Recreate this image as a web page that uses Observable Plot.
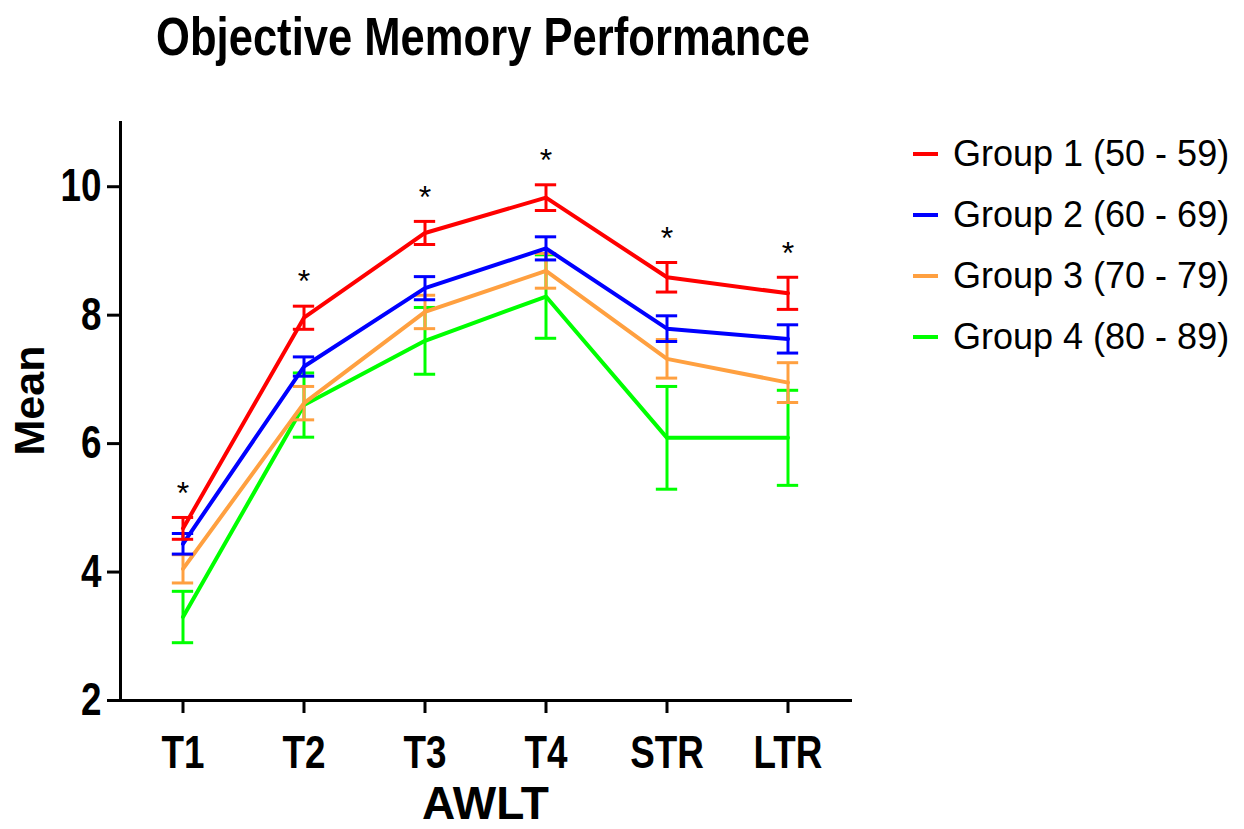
<!DOCTYPE html>
<html><head><meta charset="utf-8">
<script src="https://cdn.jsdelivr.net/npm/d3@7"></script>
<script src="https://cdn.jsdelivr.net/npm/@observablehq/plot@0.6"></script>
<style>
body{margin:0;background:#fff;font-family:"Liberation Sans",Arial,sans-serif;}
#wrap{position:relative;width:1244px;height:829px;overflow:hidden;background:#fff;}
#title{position:absolute;left:0;top:9px;width:966px;text-align:center;font-size:54px;font-weight:bold;line-height:54px;transform:scaleX(0.807);transform-origin:483px 0;white-space:nowrap;color:#000;}
#chart{position:absolute;left:0;top:90px;}
#legend{position:absolute;left:913px;top:0;}
.row{position:absolute;left:0;display:flex;align-items:center;height:40px;white-space:nowrap;}
.sw{width:25px;height:4px;margin-right:15px;}
.lab{font-size:36px;color:#000;}
</style></head>
<body><div id="wrap"><div id="title">Objective Memory Performance</div><div id="chart"></div><div id="legend"></div></div>
<script>
const categories = ["T1", "T2", "T3", "T4", "STR", "LTR"];
const groups = ["Group 1 (50 - 59)", "Group 2 (60 - 69)", "Group 3 (70 - 79)", "Group 4 (80 - 89)"];
const colors = ["#FF0000", "#0000FF", "#FFA040", "#00FF00"];
const g1Mean = [4.68, 7.96, 9.28, 9.83, 8.59, 8.34];
const g1Err  = [0.17, 0.18, 0.18, 0.20, 0.23, 0.25];
const g2Mean = [4.44, 7.20, 8.42, 9.04, 7.79, 7.63];
const g2Err  = [0.16, 0.15, 0.18, 0.18, 0.20, 0.22];
const g3Mean = [4.05, 6.63, 8.05, 8.69, 7.32, 6.95];
const g3Err  = [0.22, 0.26, 0.26, 0.27, 0.30, 0.31];
const g4Mean = [3.30, 6.60, 7.60, 8.29, 6.09, 6.09];
const g4Err  = [0.40, 0.50, 0.52, 0.65, 0.80, 0.74];
const sigMarks = ["*", "*", "*", "*", "*", "*"];
const yTicks = [2, 4, 6, 8, 10];
const xTitle = "AWLT";
const yTitle = "Mean";

const means = [g1Mean, g2Mean, g3Mean, g4Mean];
const errs = [g1Err, g2Err, g3Err, g4Err];
const rows = [];
groups.forEach((g, gi) => categories.forEach((c, ci) => rows.push({group: g, cat: c, mean: means[gi][ci], err: errs[gi][ci]})));
const starRows = categories.map((c, ci) => ({cat: c, top: g1Mean[ci] + g1Err[ci], mark: sigMarks[ci]}));

const W = 880, H = 739, ML = 120, MR = 30;
const bw = (W - ML - MR) / categories.length;
const capInset = (bw - 22) / 2;

const marks = [];
[...groups].reverse().forEach(g => {
  const d = rows.filter(r => r.group === g);
  marks.push(
    Plot.ruleX(d, {x: "cat", y1: r => r.mean - r.err, y2: r => r.mean + r.err, stroke: "group", strokeWidth: 3}),
    Plot.tickY(d, {x: "cat", y: r => r.mean + r.err, stroke: "group", strokeWidth: 3, insetLeft: capInset, insetRight: capInset}),
    Plot.tickY(d, {x: "cat", y: r => r.mean - r.err, stroke: "group", strokeWidth: 3, insetLeft: capInset, insetRight: capInset}),
    Plot.lineY(d, {x: "cat", y: "mean", z: "group", stroke: "group", strokeWidth: 4})
  );
});
marks.push(
  Plot.text(starRows, {x: "cat", y: "top", text: "mark", dy: -24, fontSize: 32, fontWeight: "normal", lineAnchor: "middle"}),
  Plot.axisX({tickSize: 13, tickPadding: 22, strokeWidth: 3, label: null}),
  Plot.axisY({ticks: yTicks, tickSize: 13, tickPadding: 6, strokeWidth: 3, label: null}),
  Plot.frame({anchor: "left", strokeWidth: 3}),
  Plot.frame({anchor: "bottom", strokeWidth: 3}),
  Plot.text([xTitle], {frameAnchor: "bottom", dy: 118, lineAnchor: "bottom", ariaLabel: "xlabel"}),
  Plot.text([yTitle], {frameAnchor: "left", rotate: -90, dx: -90, dy: 44, fontSize: 43})
);

const chart = Plot.plot({
  width: W, height: H, marginTop: 32, marginBottom: 129, marginLeft: ML, marginRight: MR,
  x: {type: "band", domain: categories, padding: 0},
  y: {domain: [2, 11]},
  color: {domain: groups, range: colors},
  style: {fontFamily: '"Liberation Sans", Arial, sans-serif', fontSize: "46px", fontWeight: "bold", color: "black", background: "white", overflow: "visible"},
  marks
});
document.getElementById("chart").appendChild(chart);

function squeeze(t, s) {
  const tr = t.getAttribute("transform") || "";
  const x = +t.getAttribute("x") || 0;
  t.setAttribute("transform", `${tr} translate(${x},0) scale(${s},1) translate(${-x},0)`);
}
chart.querySelectorAll('g[aria-label="x-axis tick label"] text, g[aria-label="y-axis tick label"] text, g[aria-label="xlabel"] text').forEach(t => squeeze(t, 0.8));

const legend = document.getElementById("legend");
const rowCenters = [154, 215, 276, 337];
groups.forEach((g, i) => {
  const r = document.createElement("div");
  r.className = "row";
  r.style.top = (rowCenters[i] - 20) + "px";
  r.innerHTML = `<div class="sw" style="background:${colors[i]}"></div><div class="lab">${g}</div>`;
  legend.appendChild(r);
});
</script>
</body></html>
